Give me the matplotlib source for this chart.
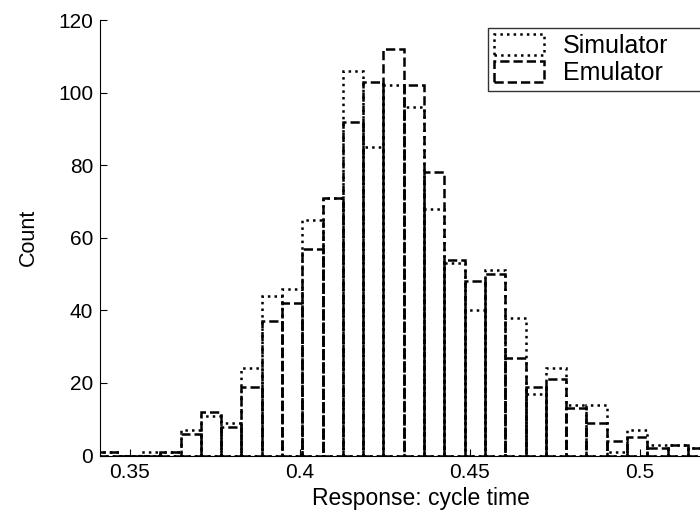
import matplotlib
matplotlib.use("Agg")
import matplotlib.pyplot as plt
import numpy as np

plt.rcParams['font.family'] = ['Liberation Sans', 'DejaVu Sans']

# Histogram data (30 bins)
bin_start = 0.3410
bin_width = 0.00597
simulator = [1, 0, 1, 1, 7, 11, 9, 24, 44, 46, 65, 71, 106, 85, 102, 96, 68, 53, 40, 51,
             38, 17, 24, 14, 14, 1, 7, 3, 3, 2]
emulator = [1, 0, 0, 1, 6, 12, 8, 19, 37, 42, 57, 71, 92, 103, 112, 102, 78, 54, 48, 50,
            27, 19, 21, 13, 9, 4, 5, 2, 3, 2]
xticks = [0.35, 0.4, 0.45, 0.5]
xticklabels = ["0.35", "0.4", "0.45", "0.5"]
yticks = [0, 20, 40, 60, 80, 100, 120]

edges = bin_start + bin_width * np.arange(len(simulator))

W, H = 700, 516
fig = plt.figure(figsize=(W / 100, H / 100), dpi=100)
left_px, bottom_px, top_px = 100, 455.6, 20
xmin, xmax = 0.3412, 0.53
px_per_unit = 3400
width_px = (xmax - xmin) * px_per_unit
ax = fig.add_axes([left_px / W, 1 - bottom_px / H, width_px / W, (bottom_px - top_px) / H])

ax.bar(edges, simulator, width=bin_width, align='edge', fill=False,
       edgecolor='black', linestyle=':', linewidth=1.8, label='Simulator')
ax.bar(edges, emulator, width=bin_width, align='edge', fill=False,
       edgecolor='black', linestyle='--', linewidth=1.8, label='Emulator')

ax.set_xlim(xmin, xmax)
ax.set_ylim(0, 120)
ax.set_xticks(xticks)
ax.set_xticklabels(xticklabels)
ax.set_yticks(yticks)
ax.tick_params(direction='in', length=5, labelsize=15, width=0.8, pad=5)
ax.spines['top'].set_visible(False)
ax.spines['right'].set_visible(False)
for s in ('left', 'bottom'):
    ax.spines[s].set_linewidth(0.8)

ax.set_ylabel('Count', fontsize=15.5, labelpad=14)
ax.set_xlabel('Response: cycle time', fontsize=16.5, labelpad=4)

leg = ax.legend(loc='upper left', bbox_to_anchor=(488 / W, 1 - 92 / H, 240 / W, 64 / H),
                bbox_transform=fig.transFigure, mode='expand', borderaxespad=0,
                fancybox=False, edgecolor='black', fontsize=18, handlelength=2.0,
                handleheight=0.9, borderpad=0.25, labelspacing=0.1, handletextpad=0.75)
leg.get_frame().set_linewidth(1.0)

fig.savefig('out.png', dpi=100)
